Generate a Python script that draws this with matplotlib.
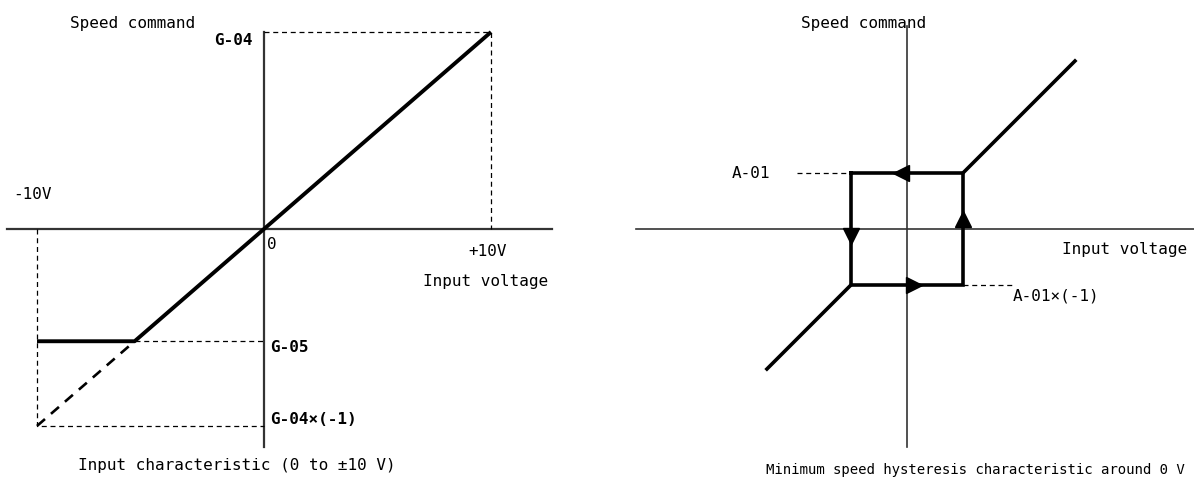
import matplotlib.pyplot as plt
import numpy as np

# left chart: input characteristic, volts vs normalised speed (G-04 = 1)
volt_min, volt_max = -10.0, 10.0
g04 = 1.0
g05 = -0.57
left_xlim = (-11.63, 14.80)
left_ylim = (-1.315, 1.1675)

# right chart: hysteresis, in units of the band half width (A-01 = 1)
a01 = 1.0
band = 1.0
diag_hi = 3.0
diag_lo = -2.5
right_xlim = (-5.48, 5.125)
right_ylim = (-4.625, 4.107)

mono = ['DejaVu Sans Mono', 'Noto Sans CJK JP']
AX = '#333333'
fs = 11.5

fig = plt.figure(figsize=(11.94, 4.89), dpi=100)
ax1 = fig.add_axes([0, 0, 600 / 1194, 1])
ax2 = fig.add_axes([600 / 1194, 0, 594 / 1194, 1])
for ax in (ax1, ax2):
    ax.axis('off')
ax1.set_xlim(*left_xlim)
ax1.set_ylim(*left_ylim)
ax2.set_xlim(*right_xlim)
ax2.set_ylim(*right_ylim)

# ---- left chart
ax1.plot([-11.3, 12.7], [0, 0], color=AX, lw=1.6)
ax1.plot([0, 0], [-1.107, g04], color=AX, lw=1.6)

knee = g05 / g04 * volt_max
ax1.plot([volt_min, knee, volt_max], [g05, g05, g04], color='k', lw=2.8,
         solid_capstyle='butt')
ax1.plot([volt_min, knee], [-g04, g05], color='k', lw=1.9, ls=(0, (4, 3)))

dash = dict(color='k', lw=0.9, ls=(0, (4, 3)))
ax1.plot([0, volt_max, volt_max], [g04, g04, 0], **dash)
ax1.plot([volt_min, volt_min, 0], [0, -g04, -g04], **dash)
ax1.plot([knee, 0], [g05, g05], **dash)

ax1.text(-5.77, 1.046, 'Speed command', ha='center', va='center', family=mono, fontsize=fs)
ax1.text(-0.48, 0.964, 'G-04', ha='right', va='center', family=mono, fontsize=fs,
         fontweight='bold')
ax1.text(-10.2, 0.178, '-10V', ha='center', va='center', family=mono, fontsize=fs)
ax1.text(0.13, -0.076, '0', ha='left', va='center', family=mono, fontsize=fs)
ax1.text(9.87, -0.107, '+10V', ha='center', va='center', family=mono, fontsize=fs)
ax1.text(12.5, -0.264, 'Input voltage', ha='right', va='center', family=mono, fontsize=fs)
ax1.text(0.26, g05 - 0.025, 'G-05', ha='left', va='center', family=mono, fontsize=fs,
         fontweight='bold')
ax1.text(0.26, -0.964, 'G-04×(-1)', ha='left', va='center', family=mono, fontsize=fs,
         fontweight='bold')
ax1.text(-1.19, -1.198, 'Input characteristic (0 to ±10 V)', ha='center', va='center',
         family=mono, fontsize=fs)

# ---- right chart
ax2.plot([-4.84, 5.2], [0, 0], color=AX, lw=1.2)
ax2.plot([0, 0], [-3.89, 3.63], color=AX, lw=1.2)

ax2.plot([band, diag_hi], [a01, diag_hi], color='k', lw=2.6)
ax2.plot([-band, diag_lo], [-a01, diag_lo], color='k', lw=2.6)
ax2.plot([-band, band, band, -band, -band], [a01, a01, -a01, -a01, a01],
         color='k', lw=2.6, solid_joinstyle='miter')

ms = 11
ax2.plot([-0.1], [a01], marker='<', color='k', ms=ms, ls='none')
ax2.plot([0.12], [-a01], marker='>', color='k', ms=ms, ls='none')
ax2.plot([-band], [-0.12], marker='v', color='k', ms=ms, ls='none')
ax2.plot([band], [0.18], marker='^', color='k', ms=ms, ls='none')

ax2.plot([-1.96, -band], [a01, a01], **dash)
ax2.plot([band, 1.9], [-a01, -a01], **dash)

ax2.text(-0.77, 3.68, 'Speed command', ha='center', va='center', family=mono, fontsize=fs)
ax2.text(-2.79, a01, 'A-01', ha='center', va='center', family=mono, fontsize=fs)
ax2.text(1.89, -1.18, 'A-01×(-1)', ha='left', va='center', family=mono, fontsize=fs)
ax2.text(5.0, -0.34, 'Input voltage', ha='right', va='center', family=mono, fontsize=fs)
ax2.text(1.22, -4.29, 'Minimum speed hysteresis characteristic around 0 V', ha='center',
         va='center', family=mono, fontsize=10.1)

fig.savefig('out.png', dpi=100)
